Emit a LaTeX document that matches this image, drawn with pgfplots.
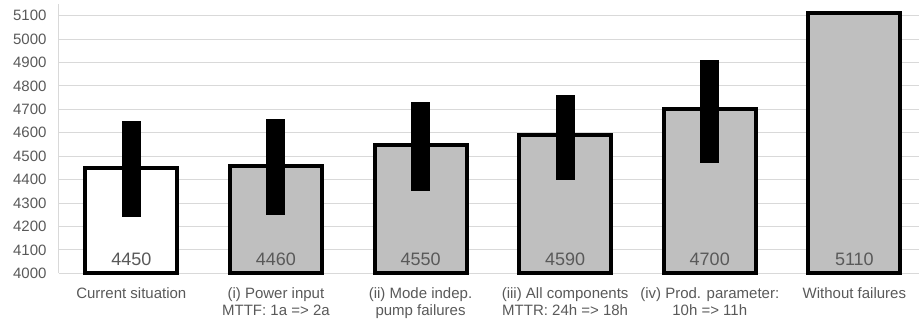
\documentclass[border=0pt]{standalone}
\usepackage{pgfplots}
\pgfplotsset{compat=1.18}
\usepackage{fontspec}
\setmainfont{Liberation Sans}
\definecolor{txt}{HTML}{595959}
\definecolor{gridc}{HTML}{D9D9D9}
\definecolor{barg}{HTML}{BFBFBF}
\begin{document}
\begin{tikzpicture}
\begin{axis}[
  at={(0,0)}, anchor=south west,
  scale only axis, width=860pt, height=269.3pt,
  xmin=-0.5, xmax=5.447, ymin=4000, ymax=5150,
  ytick={4000,4100,...,5100},
  xtick={0,1,2,3,4,5},
  xticklabels={{Current situation},{(i) Power input\\MTTF: 1a => 2a},{(ii) Mode indep.\\pump failures},{(iii) All components\\MTTR: 24h => 18h},{(iv) Prod. parameter:\\10h => 11h},{Without failures}},
  xticklabel style={align=center, font=\fontsize{15}{17.3}\selectfont, text=txt, yshift=-11pt},
  yticklabel style={font=\fontsize{15}{18}\selectfont, text=txt, xshift=-9pt},
  /pgf/number format/assume math mode=true,
  /pgf/number format/set thousands separator={},
  major tick length=0pt,
  ymajorgrids, grid style={gridc, line width=1pt},
  axis x line*=bottom, axis y line*=left,
  axis line style={gridc, line width=1pt, -},
  clip=false,
]
\addplot[ybar, bar width=92pt, bar shift=0pt, fill=white, draw=black, line width=4pt] coordinates {(0,4450)};
\addplot[ybar, bar width=92pt, bar shift=0pt, fill=barg, draw=black, line width=4pt] coordinates {(1,4460) (2,4550) (3,4590) (4,4700) (5,5110)};
\addplot[mark=none, draw=none, error bars/.cd, y dir=both, y explicit, error mark=none,
  error bar style={draw=black, line width=19pt}] coordinates {
  (0,4450) += (0,200) -= (0,210)
  (1,4460) += (0,200) -= (0,210)
  (2,4550) += (0,180) -= (0,200)
  (3,4590) += (0,170) -= (0,190)
  (4,4700) += (0,210) -= (0,230)
};
\addplot[mark=none, draw=none, nodes near coords, point meta=explicit symbolic,
  every node near coord/.append style={anchor=center, text=txt, font=\fontsize{18}{20}\selectfont}] coordinates {
  (0,4061) [4450] (1,4061) [4460] (2,4061) [4550] (3,4061) [4590] (4,4061) [4700] (5,4061) [5110]
};
\end{axis}
\pgfresetboundingbox
\path[use as bounding box] (-59pt,-49.7pt) rectangle (860pt,273.3pt);
\end{tikzpicture}
\end{document}
